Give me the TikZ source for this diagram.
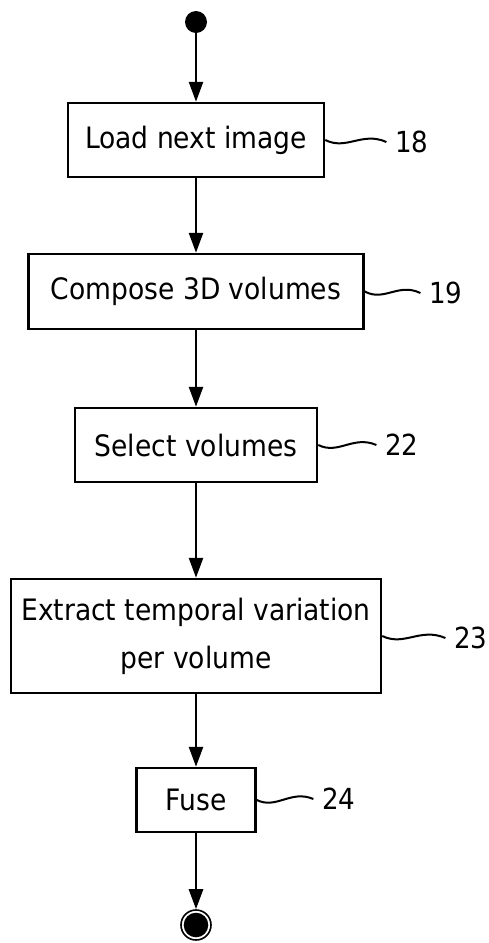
\documentclass[tikz,border=0pt]{standalone}
\usepackage{fontspec}
\setmainfont{DejaVu Sans Condensed}
\usetikzlibrary{arrows.meta,calc}
\begin{document}
\begin{tikzpicture}[x=1pt,y=-1pt,
  box/.style={draw, line width=2.5pt, rectangle, inner sep=0pt, align=center,
    font=\fontsize{29.5}{48}\selectfont},
  refnum/.style={inner sep=0pt, outer xsep=9pt, font=\fontsize{29}{34}\selectfont},
  flow/.style={line width=2.7pt, -{Triangle[length=20pt,width=14pt]}},
  squig/.style={line width=2pt,
    to path={.. controls ($(\tikztostart)!0.35!(\tikztotarget)+(0,10)$)
      and ($(\tikztostart)!0.6!(\tikztotarget)+(0,-10)$) .. (\tikztotarget)}},
]
\useasboundingbox (0,0) rectangle (489,943);

\node[circle, fill, minimum size=22pt, inner sep=0pt] (start) at (196,22) {};

\node[box, minimum width=256pt, minimum height=74pt] (b1) at (196,140) {Load next image};
\node[box, minimum width=335pt, minimum height=75pt] (b2) at (196,291.5) {Compose 3D volumes};
\node[box, minimum width=242pt, minimum height=74pt] (b3) at (196,445) {Select volumes};
\node[box, minimum width=370pt, minimum height=114pt] (b4) at (196,636) {Extract temporal variation\\per volume};
\node[box, minimum width=119pt, minimum height=64pt] (b5) at (196,800) {Fuse};

\node[circle, draw, line width=1.6pt, minimum size=30pt, inner sep=0pt,
  path picture={\fill (path picture bounding box.center) circle (12.3pt);}] (stop) at (196,925) {};

\node[refnum] (l18) at (412,142) {18};
\node[refnum] (l19) at (446,293) {19};
\node[refnum] (l22) at (402,445) {22};
\node[refnum] (l23) at (471,638) {23};
\node[refnum] (l24) at (339,799) {24};

\draw[flow] (start) -- (b1);
\draw[flow] (b1) -- (b2);
\draw[flow] (b2) -- (b3);
\draw[flow] (b3) -- (b4);
\draw[flow] (b4) -- (b5);
\draw[flow] (b5) -- (stop);

\draw[squig] (b1.east) to (l18.west);
\draw[squig] (b2.east) to (l19.west);
\draw[squig] (b3.east) to (l22.west);
\draw[squig] (b4.east) to (l23.west);
\draw[squig] (b5.east) to (l24.west);
\end{tikzpicture}
\end{document}
